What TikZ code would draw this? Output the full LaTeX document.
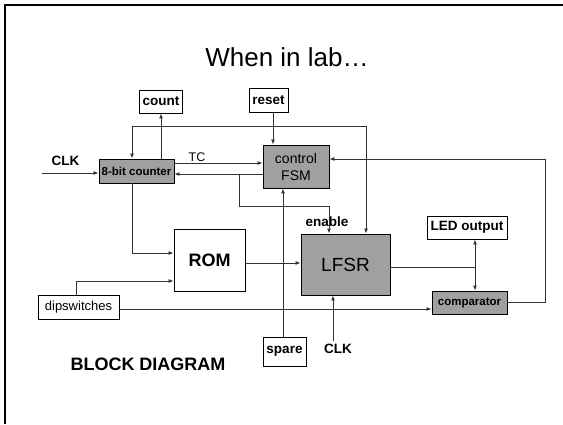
\documentclass[tikz,border=0pt]{standalone}
\usepackage{fontspec}
\setmainfont{Liberation Sans}
\usepackage{xcolor}
\usetikzlibrary{arrows.meta,calc,positioning}
\definecolor{blockgray}{RGB}{160,160,160}

\begin{document}
\begin{tikzpicture}[x=1pt,y=-1pt,>={Latex[length=5pt,width=4pt]},
  box/.style={draw,line width=0.9pt,fill=white,inner sep=0pt,align=center},
  gbox/.style={box,fill=blockgray},
  lbl/.style={font=\fontsize{13.5}{15}\selectfont\bfseries},
  wire/.style={line width=0.9pt,black!80},
  arr/.style={wire,->}]
\useasboundingbox (0,0) rectangle (563,424);
\draw[line width=1.8pt] (5,424) -- (5,5) -- (563,5);
\node[font=\fontsize{26}{30}\selectfont] (title) at (287,57) {When in lab\dots};
% blocks
\node[box,lbl,minimum width=43pt,minimum height=23pt] (count) at (161,101.5) {count};
\node[box,lbl,minimum width=39pt,minimum height=24pt] (reset) at (268.5,100) {reset};
\node[gbox,font=\fontsize{11.5}{13}\selectfont\bfseries,minimum width=75pt,minimum height=24pt] (counter) at (136.5,171) {8-bit counter};
\node[gbox,font=\fontsize{14}{17}\selectfont,minimum width=66pt,minimum height=43pt] (fsm) at (296,166.5) {control\\FSM};
\node[gbox,font=\fontsize{19}{22}\selectfont,minimum width=89pt,minimum height=61pt] (lfsr) at (345.5,264.5) {LFSR};
\node[box,font=\fontsize{13.5}{16}\selectfont\bfseries,minimum width=80pt,minimum height=23pt] (led) at (467,227.5) {LED output};
\node[gbox,font=\fontsize{11.5}{13}\selectfont\bfseries,minimum width=75pt,minimum height=23pt] (comp) at (469.5,302.5) {comparator};
\node[box,font=\fontsize{18}{20}\selectfont\bfseries,minimum width=71pt,minimum height=62pt] (rom) at (209.5,260) {ROM};
\node[box,font=\fontsize{13}{15}\selectfont,minimum width=81pt,minimum height=24pt] (dip) at (78.5,307) {dipswitches};
\node[box,lbl,minimum width=43pt,minimum height=29pt] (spare) at (284.5,351.5) {spare};
% labels
\node[lbl] (clkA) at (65.5,161) {CLK};
\node[font=\fontsize{12.5}{14}\selectfont] (tc) at (197,157) {TC};
\node[lbl] (en) at (327,222) {enable};
\node[lbl] (clkB) at (338,349) {CLK};
\node[font=\fontsize{18}{20}\selectfont\bfseries] (bd) at (148,364) {BLOCK DIAGRAM};
% reset bus
\coordinate (rst) at (273,126);
\coordinate (rstL) at (132,126);
\coordinate (rstR) at (366,126);
\draw[arr] (reset.south -| rst) -- (fsm.north -| rst);
\draw[arr] (rst) -- (rstL) -- (rstL |- counter.north);
\draw[arr] (rst) -- (rstR) -- (rstR |- lfsr.north);
% counter
\coordinate (clkin) at (42,173);
\draw[arr] (clkin) -- (clkin -| counter.west);
\draw[arr] (counter.north -| count.south) -- (count.south);
\coordinate (tcy) at (0,163);
\coordinate (bky) at (0,174);
\draw[arr] (counter.east |- tcy) -- (fsm.west |- tcy);
\draw[arr] (fsm.west |- bky) -- (counter.east |- bky);
\coordinate (enL) at (239,206);
\coordinate (enR) at (329,206);
\draw[arr] (enL |- bky) -- (enL) -- (enR) -- (enR |- lfsr.north);
\coordinate (sp) at (283,0);
\draw[arr] (spare.north -| sp) -- (fsm.south -| sp);
\coordinate (cr) at (132,253);
\draw[arr] (counter.south -| cr) -- (cr) -- (cr -| rom.west);
\coordinate (dr) at (76,281);
\draw[arr] (dip.north -| dr) -- (dr) -- (dr -| rom.west);
\coordinate (rl) at (0,263);
\draw[arr] (rom.east |- rl) -- (lfsr.west |- rl);
\coordinate (dc) at (0,309);
\draw[arr] (dip.east |- dc) -- (comp.west |- dc);
\coordinate (ck) at (333,0);
\draw[arr] (clkB.north -| ck) -- (lfsr.south -| ck);
% outputs
\coordinate (lj) at (475,267);
\draw[wire] (lfsr.east |- lj) -- (lj);
\draw[arr] (lj) -- (lj |- led.south);
\draw[arr] (lj) -- (lj |- comp.north);
\coordinate (fb) at (545,159);
\draw[arr] (comp.east) -| (fb) -- (fb -| fsm.east);
\end{tikzpicture}
\end{document}
